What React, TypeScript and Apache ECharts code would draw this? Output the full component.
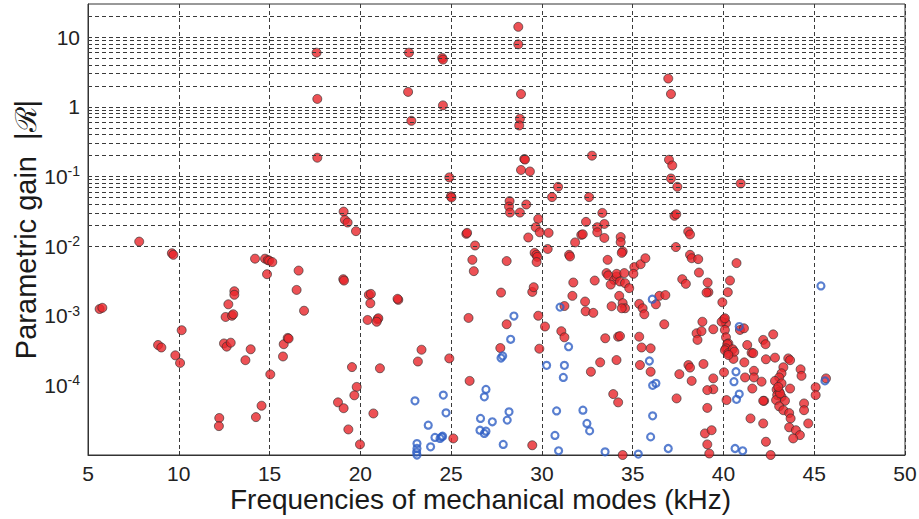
import React, { useEffect, useRef } from "react";
import * as echarts from "echarts";

// x ticks (kHz) and y decade labels
const xTicks = [5, 10, 15, 20, 25, 30, 35, 40, 45, 50];
const yMin = 1e-5;
const yMax = 30;
const yGridMantissas = [1, 2, 3, 4, 5, 6, 7, 8, 9];
const yGridDecades = [-5, -4, -3, -2, -1, 0, 1];

// Unstable-candidate modes (red, filled), [frequency kHz, |R|]
const redModesLow: [number, number][] = [
  [5.64, 1.25e-3], [5.79, 1.3e-3], [7.82, 1.16e-2], [9.62, 7.9e-3], [9.7, 7.5e-3],
  [8.86, 3.8e-4], [9.04, 3.5e-4], [9.81, 2.7e-4], [10.07, 2.1e-4], [10.16, 6.2e-4],
  [12.23, 3.4e-5], [12.21, 2.6e-5], [12.58, 9.6e-4], [12.73, 1.46e-3],
  [12.49, 4.0e-4], [12.64, 3.6e-4], [12.86, 4.1e-4], [12.93, 1.0e-3], [13.0, 1.05e-3],
  [13.06, 2.25e-3], [13.06, 2.0e-3], [13.67, 2.3e-4], [13.96, 3.3e-4],
  [14.2, 6.6e-3], [14.56, 5.1e-5], [14.25, 3.5e-5], [14.75, 6.6e-3], [14.9, 6.3e-3],
  [14.98, 6.2e-3], [15.15, 5.9e-3], [14.86, 3.95e-3], [15.04, 1.44e-4],
  [15.74, 2.6e-4], [15.78, 3.9e-4], [16.0, 4.8e-4], [16.05, 4.7e-4],
  [16.6, 4.45e-3], [16.49, 2.35e-3], [16.9, 1.18e-3],
  [17.59, 6.0], [17.63, 1.3], [17.63, 0.186],
  [19.08, 0.0313], [19.15, 0.0238], [19.3, 0.0218], [19.76, 0.0164],
  [19.06, 3.35e-3], [19.1, 3.2e-3],
  [20.47, 2.0e-3], [20.58, 2.06e-3], [20.55, 1.51e-3],
  [20.4, 8.7e-4], [20.95, 8.9e-4], [20.99, 9.2e-4], [20.9, 8.2e-4],
  [22.09, 1.69e-3], [22.05, 1.75e-3],
  [19.54, 1.83e-4], [19.8, 9.5e-5], [19.67, 7.2e-5], [18.77, 5.7e-5], [19.08, 4.7e-5],
  [19.34, 2.33e-5], [19.98, 1.42e-5], [20.72, 3.95e-5], [21.08, 1.76e-4],
  [23.37, 3.25e-4], [23.17, 2.2e-4], [24.9, 2.44e-4], [26.02, 1.16e-4], [25.12, 1.73e-5],
  [22.68, 6.0], [22.63, 1.64], [22.81, 0.63],
  [24.51, 5.05], [24.55, 4.77], [24.55, 1.05],
  [24.9, 0.097], [24.99, 0.052], [25.02, 0.05],
  [25.84, 0.015], [25.88, 0.0155], [26.32, 0.0102], [26.17, 6.35e-3], [26.25, 4.37e-3],
  [28.06, 6.1e-3], [27.75, 2.15e-3], [25.96, 9.3e-4], [28.06, 7.55e-4], [27.71, 3.44e-4],
];

const redModesMid: [number, number][] = [
  [28.7, 14.1], [28.7, 7.9], [28.85, 1.53], [28.79, 0.676], [28.75, 0.54],
  [29.03, 0.178], [29.07, 0.175], [28.85, 0.124], [29.34, 0.118],
  [32.76, 0.199], [30.89, 0.071], [30.56, 0.0506], [32.6, 0.0506],
  [28.22, 0.0443], [28.19, 0.037], [28.24, 0.0303], [29.14, 0.0396], [28.79, 0.0303],
  [29.8, 0.0246], [29.66, 0.0187], [29.88, 0.0158], [29.25, 0.0133], [30.37, 0.0155],
  [33.33, 0.03], [32.43, 0.0223], [33.44, 0.0208], [33.05, 0.0187], [33.05, 0.0158],
  [32.17, 0.0145], [32.25, 0.0148], [33.44, 0.0131],
  [34.34, 0.0135], [34.34, 0.0114], [34.45, 8.4e-3], [34.4, 8.0e-3], [31.83, 0.0113],
  [29.6, 8.0e-3], [29.7, 7.5e-3], [29.75, 7.0e-3], [29.71, 5.9e-3], [30.32, 9.1e-3],
  [29.47, 2.2e-3], [29.55, 2.57e-3], [31.5, 7.5e-3], [31.55, 7.1e-3],
  [31.73, 3.0e-3], [32.91, 3.2e-3], [33.62, 6.35e-3],
  [33.56, 4.1e-3], [33.65, 3.8e-3], [33.98, 3.27e-3], [34.11, 3.66e-3], [34.12, 4.0e-3], [34.54, 4.1e-3],
  [33.79, 2.8e-3], [34.3, 3.1e-3], [34.58, 2.94e-3], [34.81, 2.49e-3],
  [31.68, 1.93e-3], [32.38, 1.6e-3], [31.24, 1.38e-3], [32.41, 1.16e-3], [32.83, 1.1e-3],
  [33.84, 1.37e-3], [34.26, 1.93e-3], [34.45, 1.52e-3], [34.58, 1.28e-3], [34.4, 1.28e-3],
  [35.09, 5.0e-3], [35.44, 5.5e-3], [35.7, 6.7e-3], [35.04, 4.0e-3],
  [35.36, 1.48e-3], [35.55, 1.28e-3], [35.64, 1.05e-3],
  [36.28, 1.46e-3], [36.47, 1.93e-3], [36.8, 1.98e-3],
  [29.8, 1.0e-3], [30.17, 7.0e-4], [29.86, 3.36e-4], [31.07, 6.0e-4], [31.24, 4.9e-4],
  [33.49, 4.75e-4], [34.2, 5.0e-4], [34.3, 5.1e-4],
  [33.21, 2.14e-4], [32.7, 1.57e-4], [34.11, 2.31e-4], [33.93, 7.5e-5], [34.2, 5.7e-5],
  [29.47, 1.38e-5], [34.45, 1.0e-5],
  [35.36, 5.0e-4], [36.74, 7.55e-4],
  [35.99, 3.4e-4], [35.49, 3.5e-4], [35.4, 1.96e-4], [35.99, 1.57e-4],
];

const redModesHigh: [number, number][] = [
  [36.96, 2.55], [37.11, 1.53], [37.0, 0.174], [37.18, 0.144], [37.11, 0.0936], [37.46, 0.0711],
  [40.95, 0.0793], [37.3, 0.0272], [37.4, 0.0287], [38.06, 0.0162], [38.16, 0.0147],
  [37.38, 9.7e-3], [37.73, 3.35e-3], [37.93, 2.87e-3],
  [38.16, 7.5e-3], [38.25, 6.7e-3], [38.61, 6.5e-3], [38.65, 4.17e-3],
  [39.13, 3.0e-3], [39.17, 2.18e-3], [39.07, 2.15e-3],
  [40.72, 5.7e-3], [40.36, 3.2e-3], [40.24, 2.18e-3], [39.94, 1.56e-3],
  [38.84, 8.2e-4], [38.52, 5.6e-4], [38.79, 6.0e-4], [38.57, 4.5e-4], [39.44, 6.4e-4],
  [40.03, 8.9e-4], [40.14, 7.8e-4], [39.9, 8.2e-4], [40.08, 9.2e-4], [40.08, 6.25e-4],
  [40.14, 4.9e-4], [40.27, 4.0e-4], [40.21, 3.9e-4], [40.14, 3.4e-4], [40.08, 3.2e-4],
  [40.27, 2.9e-4], [40.51, 3.3e-4], [40.55, 2.4e-4], [40.6, 3.05e-4], [40.27, 2.73e-4],
  [40.91, 6.25e-4], [41.13, 6.6e-4],
  [41.31, 3.8e-4], [41.55, 2.94e-4], [41.64, 2.9e-4], [41.15, 2.14e-4],
  [42.34, 2.37e-4], [42.19, 4.5e-4], [42.32, 3.9e-4], [42.74, 5.4e-4], [42.84, 2.5e-4],
  [43.57, 2.44e-4], [43.67, 2.3e-4],
  [43.3, 1.82e-4], [43.2, 1.49e-4], [43.07, 1.3e-4], [42.84, 1.16e-4], [43.2, 1.07e-4],
  [43.67, 9.0e-5], [42.93, 8.7e-5], [43.07, 8.1e-5], [42.96, 7.25e-5], [43.2, 6.85e-5],
  [43.39, 6.0e-5], [42.9, 6.15e-5], [43.12, 7.65e-5], [43.02, 9.5e-5],
  [43.07, 5.0e-5], [43.3, 4.4e-5], [43.62, 4.0e-5], [43.7, 3.35e-5],
  [43.62, 2.5e-5], [43.99, 2.27e-5], [44.21, 1.93e-5], [43.84, 1.73e-5],
  [42.24, 6.0e-5], [44.44, 5.5e-5], [44.44, 4.4e-5], [44.67, 2.84e-5],
  [44.25, 1.7e-4], [44.3, 1.37e-4], [45.08, 9.4e-5], [45.08, 7.25e-5], [45.65, 1.26e-4],
  [41.68, 1.62e-4], [41.19, 1.3e-4], [41.68, 1.3e-4], [42.1, 1.13e-4], [41.59, 9.0e-5],
  [42.19, 6.0e-5], [41.49, 3.35e-5], [42.19, 2.84e-5], [42.34, 1.55e-5], [42.6, 1.0e-5],
  [40.17, 6.15e-5], [40.03, 1.54e-4],
  [39.44, 1.26e-4], [39.44, 8.8e-5], [39.11, 8.55e-5], [39.11, 4.75e-5],
  [38.9, 2.03e-4], [38.07, 1.96e-4], [38.16, 1.8e-4], [38.25, 1.16e-4], [37.57, 1.45e-4], [37.42, 6.5e-5],
  [38.98, 2.04e-5], [39.35, 2.27e-5], [39.11, 1.42e-5], [39.22, 1.05e-5],
];

// Other modes (blue, hollow)
const blueModes: [number, number][] = [
  [23.01, 6.0e-5], [24.57, 7.25e-5], [24.72, 4.03e-5], [23.74, 2.68e-5],
  [23.12, 1.46e-5], [23.12, 1.24e-5], [23.1, 1.1e-5], [23.12, 1.0e-5], [23.87, 1.31e-5],
  [24.11, 1.79e-5], [24.39, 1.73e-5], [24.48, 1.82e-5], [24.53, 1.86e-5],
  [26.92, 8.75e-5], [26.83, 6.85e-5], [26.62, 3.35e-5], [27.27, 3.0e-5],
  [26.59, 2.27e-5], [26.83, 2.04e-5], [26.92, 2.2e-5],
  [28.19, 4.17e-5], [28.09, 3.17e-5], [27.87, 1.42e-5],
  [28.46, 9.9e-4], [28.28, 4.59e-4], [27.75, 2.47e-4], [27.84, 2.64e-4],
  [31.0, 1.33e-3], [31.47, 3.59e-4],
  [30.26, 1.94e-4], [31.24, 1.94e-4], [31.18, 1.3e-4],
  [30.81, 4.3e-5], [30.72, 1.91e-5], [30.92, 1.15e-5],
  [32.26, 4.4e-5], [32.48, 2.84e-5], [32.63, 2.22e-5], [33.48, 1.11e-5],
  [36.08, 1.73e-3], [35.92, 2.24e-4], [36.1, 1.0e-4], [36.28, 1.07e-4],
  [36.1, 3.65e-5], [35.99, 1.82e-5], [36.96, 1.24e-5], [35.31, 1.03e-5],
  [40.87, 7.0e-4], [40.69, 1.57e-4], [40.58, 1.13e-4], [40.87, 7.5e-5], [40.72, 6.3e-5],
  [40.64, 1.24e-5], [41.06, 1.15e-5],
  [45.37, 2.68e-3], [45.59, 1.16e-4],
];

const FONT = "'Liberation Sans', Arial, Helvetica, sans-serif";

export default function App() {
  const ref = useRef<HTMLDivElement>(null);

  useEffect(() => {
    if (!ref.current) return;
    const chart = echarts.init(ref.current, undefined, { renderer: "svg" });

    const gridValues: number[] = [];
    yGridDecades.forEach((e) =>
      yGridMantissas.forEach((m) => {
        const v = m * Math.pow(10, e);
        if (v > yMin * 1.0001 && v < yMax * 0.9999) gridValues.push(v);
      })
    );

    const yLabel = (v: number) => {
      const e = Math.log10(v);
      const r = Math.round(e);
      if (Math.abs(e - r) > 1e-6) return "";
      if (r < -4) return "";
      if (r === 0) return "1";
      if (r === 1) return "10";
      return "10{s|" + r + "}";
    };

    const redStyle = {
      color: "#e8262b",
      borderColor: "#2a2a2a",
      borderWidth: 0.8,
    };

    chart.setOption({
      animation: false,
      backgroundColor: "#ffffff",
      grid: {
        left: 88,
        right: 14,
        top: 4,
        bottom: 64,
        show: true,
        borderColor: "#333",
        borderWidth: 1,
        backgroundColor: "transparent",
        containLabel: false,
        outerBoundsMode: "none",
      },
      xAxis: {
        type: "value",
        min: xTicks[0],
        max: xTicks[xTicks.length - 1],
        interval: 5,
        name: "Frequencies of mechanical modes (kHz)",
        nameLocation: "middle",
        nameGap: 31,
        nameMoveOverlap: false,
        nameTextStyle: {
          fontFamily: FONT,
          fontSize: 28,
          lineHeight: 26,
          color: "#1a1a1a",
          verticalAlign: "top",
          padding: [0, 32, 0, 0],
        },
        axisLine: { show: true, lineStyle: { color: "#333", width: 1 } },
        axisTick: { show: true, inside: true, length: 4, lineStyle: { color: "#333" } },
        axisLabel: { fontFamily: FONT, fontSize: 21, lineHeight: 17, color: "#222", margin: 10 },
        splitLine: {
          show: true,
          lineStyle: { color: "#3a3a3a", width: 1, type: [4, 3] },
        },
      },
      yAxis: {
        type: "log",
        logBase: 10,
        min: yMin,
        max: yMax,
        name: "Parametric gain  |ℛ|",
        nameLocation: "middle",
        nameGap: 48,
        nameRotate: 90,
        nameMoveOverlap: false,
        nameTextStyle: { fontFamily: FONT, fontSize: 29, color: "#1a1a1a" },
        axisLine: { show: true, lineStyle: { color: "#333", width: 1 } },
        axisTick: { show: false },
        axisLabel: {
          fontFamily: FONT,
          fontSize: 21,
          color: "#222",
          margin: 8,
          formatter: yLabel,
          rich: {
            s: { fontFamily: FONT, fontSize: 14, color: "#222", padding: [0, 0, 10, 0] },
          },
        },
        splitLine: { show: false },
      },
      series: [
        {
          type: "scatter",
          name: "grid",
          data: [],
          silent: true,
          markLine: {
            silent: true,
            symbol: "none",
            label: { show: false },
            lineStyle: { color: "#3a3a3a", width: 1, type: [4, 3] },
            data: gridValues.map((v) => ({ yAxis: v })),
          },
        },
        {
          type: "scatter",
          name: "red",
          symbol: "circle",
          symbolSize: 9,
          itemStyle: redStyle,
          data: [...redModesLow, ...redModesMid, ...redModesHigh],
        },
        {
          type: "scatter",
          name: "blue",
          symbol: "circle",
          symbolSize: 7,
          itemStyle: { color: "rgba(255,255,255,0)", borderColor: "#2f5fc4", borderWidth: 2.2 },
          data: blueModes,
        },
      ],
    });

    return () => chart.dispose();
  }, []);

  return (
    <div
      ref={ref}
      style={{ position: "fixed", left: 0, top: 0, width: 919, height: 519, background: "#fff" }}
    />
  );
}
